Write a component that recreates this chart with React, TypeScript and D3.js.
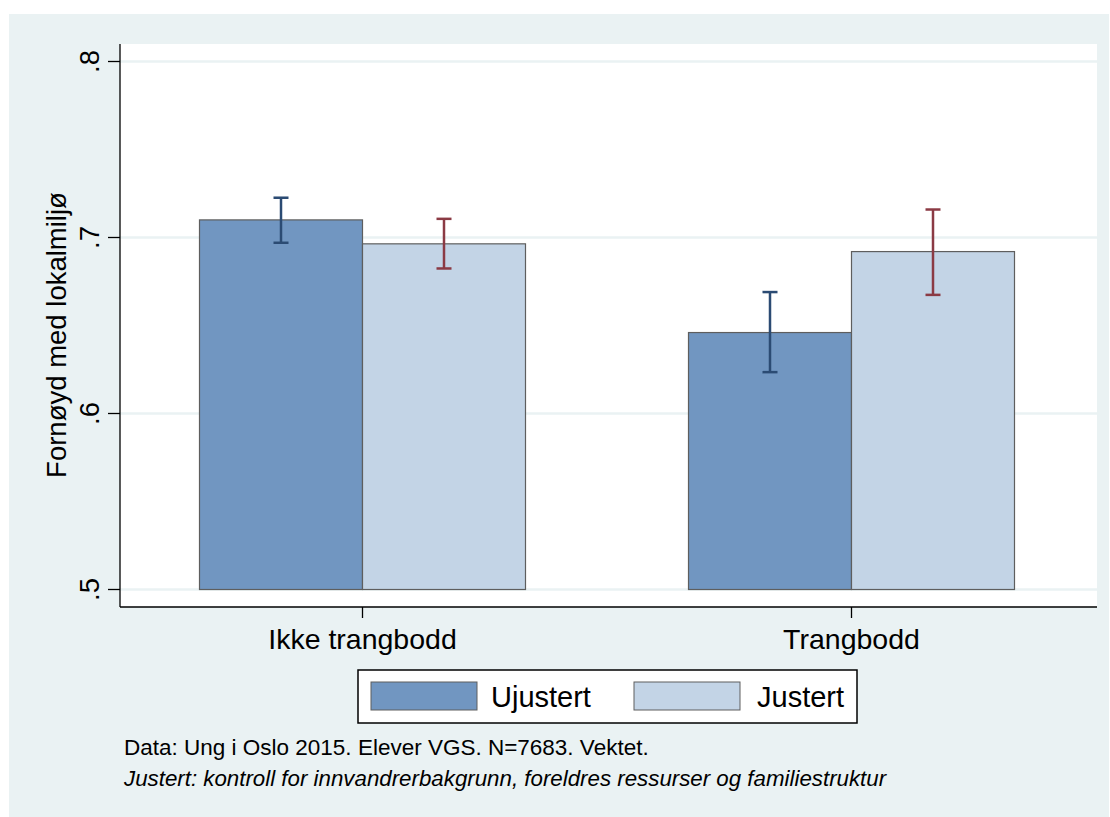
import React from "react";
import * as d3 from "d3";

const categories = ["Ikke trangbodd", "Trangbodd"];
const seriesNames = ["Ujustert", "Justert"];
const ujustertMean = [0.710, 0.646];
const ujustertLo = [0.697, 0.6235];
const ujustertHi = [0.7226, 0.669];
const justertMean = [0.6964, 0.692];
const justertLo = [0.6824, 0.6674];
const justertHi = [0.7106, 0.7159];
const yTicks = [0.5, 0.6, 0.7, 0.8];
const yTickLabels = [".5", ".6", ".7", ".8"];
const yTitle = "Fornøyd med lokalmiljø";
const note1 = "Data: Ung i Oslo 2015. Elever VGS. N=7683. Vektet.";
const note2 = "Justert: kontroll for innvandrerbakgrunn, foreldres ressurser og familiestruktur";

const FONT = "'Liberation Sans', Arial, Helvetica, sans-serif";
const BG = "#EAF2F3";
const barFill = ["#7196C1", "#C3D4E6"];
const errColor = ["#2B4B73", "#8B3A44"];

export default function App() {
  const W = 1110, H = 817;
  const plotL = 120, plotR = 1097, plotT = 44, plotB = 607;
  const y = d3.scaleLinear().domain([0.5, 0.8]).range([589.5, 61.5]);
  const x = d3.scalePoint<string>().domain(categories).range([118, 1096]).padding(0.5);
  const xs = d3.scaleBand<string>().domain(seriesNames).range([-163, 163]).padding(0);

  const series = [
    { name: seriesNames[0], mean: ujustertMean, lo: ujustertLo, hi: ujustertHi },
    { name: seriesNames[1], mean: justertMean, lo: justertLo, hi: justertHi },
  ];

  const capHalf = 7.5;

  return (
    <svg width={W} height={H} style={{ position: "absolute", left: 0, top: 0 }} fontFamily={FONT}>
      <rect x={0} y={0} width={W} height={H} fill="#ffffff" />
      <rect x={9} y={14} width={1100} height={H - 14} fill={BG} />
      <rect x={plotL} y={plotT} width={plotR - plotL} height={plotB - plotT} fill="#ffffff" />
      {yTicks.map((t) => (
        <line key={"g" + t} x1={plotL} x2={plotR} y1={y(t)} y2={y(t)} stroke={BG} strokeWidth={2.5} />
      ))}
      {series.map((s, si) =>
        categories.map((c, ci) => {
          const x0 = (x(c) as number) + (xs(s.name) as number);
          const bw = xs.bandwidth();
          return (
            <rect key={s.name + c} x={x0} y={y(s.mean[ci])} width={bw} height={y(0.5) - y(s.mean[ci])}
              fill={barFill[si]} stroke="#5E5E5E" strokeWidth={1.2} />
          );
        })
      )}
      {series.map((s, si) =>
        categories.map((c, ci) => {
          const cx = (x(c) as number) + (xs(s.name) as number) + xs.bandwidth() / 2;
          return (
            <g key={"e" + s.name + c} stroke={errColor[si]} strokeWidth={2.5}>
              <line x1={cx} x2={cx} y1={y(s.lo[ci])} y2={y(s.hi[ci])} />
              <line x1={cx - capHalf} x2={cx + capHalf} y1={y(s.hi[ci])} y2={y(s.hi[ci])} />
              <line x1={cx - capHalf} x2={cx + capHalf} y1={y(s.lo[ci])} y2={y(s.lo[ci])} />
            </g>
          );
        })
      )}
      {/* axes */}
      <line x1={plotL} x2={plotL} y1={plotT} y2={plotB} stroke="#000" strokeWidth={1.3} />
      <line x1={plotL} x2={plotR} y1={plotB} y2={plotB} stroke="#000" strokeWidth={1.3} />
      {yTicks.map((t, i) => (
        <g key={"t" + t}>
          <line x1={108} x2={plotL} y1={y(t)} y2={y(t)} stroke="#000" strokeWidth={1.3} />
          <text transform={`translate(99,${y(t)}) rotate(-90)`} textAnchor="middle" fontSize={27.5} fill="#000">
            {yTickLabels[i]}
          </text>
        </g>
      ))}
      {categories.map((c) => (
        <g key={"x" + c}>
          <line x1={x(c)} x2={x(c)} y1={plotB} y2={618} stroke="#000" strokeWidth={1.3} />
          <text x={x(c)} y={649} textAnchor="middle" fontSize={28.5} fill="#000">{c}</text>
        </g>
      ))}
      <text transform={`translate(66,335) rotate(-90)`} textAnchor="middle" fontSize={27.5} fill="#000">
        {yTitle}
      </text>
      {/* legend */}
      <rect x={358} y={670} width={499} height={53} fill="#ffffff" stroke="#000" strokeWidth={1.5} />
      <rect x={371} y={682} width={106} height={28} fill={barFill[0]} stroke="#5E5E5E" strokeWidth={1} />
      <text x={491} y={707} fontSize={29} fill="#000">{seriesNames[0]}</text>
      <rect x={634} y={682} width={106} height={28} fill={barFill[1]} stroke="#5E5E5E" strokeWidth={1} />
      <text x={757} y={707} fontSize={29} fill="#000">{seriesNames[1]}</text>
      {/* notes */}
      <text x={124} y={755} fontSize={22.5} fill="#000">{note1}</text>
      <text x={124} y={786} fontSize={22.3} fontStyle="italic" fill="#000">{note2}</text>
    </svg>
  );
}
